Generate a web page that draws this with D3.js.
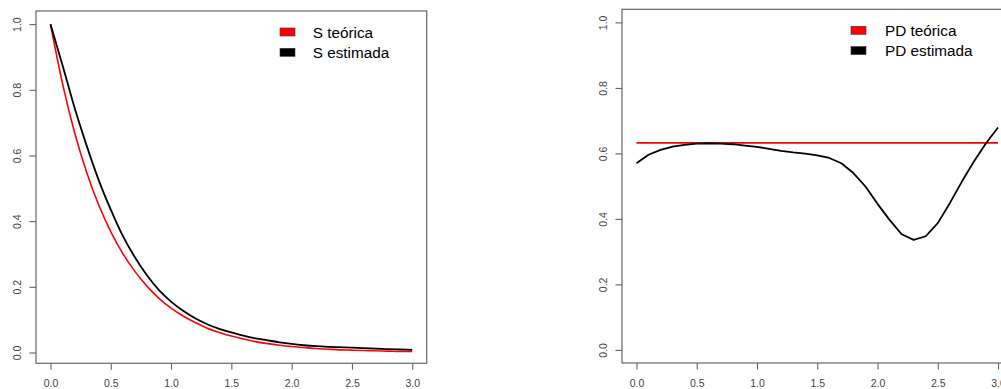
<!DOCTYPE html>
<meta charset="utf-8">
<head>
	<title>S y PD</title>
</head>

<style>

body {
	margin: 0;
	background-color: #fff;
}

svg {
	display: block;
	font-family: "Liberation Sans", Arial, sans-serif;
}

.tick text {
	fill: #444;
	font-size: 10.5px;
}

.legend text {
	font-size: 15.3px;
	fill: #000;
}

</style>

<body>

<svg width="1001" height="389"></svg>

<script src="https://cdnjs.cloudflare.com/ajax/libs/d3/7.8.5/d3.min.js"></script>
<script>

// datos (paso 0.1 en x)
var tiempo = [0.0, 0.1, 0.2, 0.3, 0.4, 0.5, 0.6, 0.7, 0.8, 0.9, 1.0,
	1.1, 1.2, 1.3, 1.4, 1.5, 1.6, 1.7, 1.8, 1.9, 2.0,
	2.1, 2.2, 2.3, 2.4, 2.5, 2.6, 2.7, 2.8, 2.9, 3.0];

var sTeorica = [1.000, 0.819, 0.670, 0.549, 0.449, 0.368, 0.301, 0.247, 0.202, 0.165, 0.135,
	0.111, 0.091, 0.074, 0.061, 0.050, 0.041, 0.033, 0.027, 0.022, 0.018,
	0.015, 0.012, 0.010, 0.008, 0.007, 0.006, 0.005, 0.004, 0.003, 0.003];

var sEstimada = [1.000, 0.875, 0.745, 0.630, 0.525, 0.435, 0.355, 0.290, 0.235, 0.190, 0.155,
	0.127, 0.104, 0.086, 0.072, 0.061, 0.051, 0.043, 0.037, 0.031, 0.026,
	0.022, 0.019, 0.017, 0.016, 0.015, 0.013, 0.012, 0.010, 0.009, 0.008];

var pdTeorica = 0.632;

var pdEstimada = [0.570, 0.596, 0.611, 0.621, 0.626, 0.630, 0.631, 0.630, 0.628, 0.624, 0.620,
	0.614, 0.608, 0.603, 0.599, 0.594, 0.586, 0.570, 0.540, 0.499, 0.446,
	0.397, 0.353, 0.336, 0.347, 0.387, 0.448, 0.514, 0.575, 0.631, 0.679];

var xTicks = [0, 0.5, 1, 1.5, 2, 2.5, 3];
var yTicks = [0, 0.2, 0.4, 0.6, 0.8, 1];

var svg = d3.select('svg');

// caja de cada panel (limites como en R, con 4% extra)
var paneles = [
	{
		left: 36, right: 426.7, top: 11, bottom: 363.3,
		xDom: [-0.12, 3.12], yDom: [-0.033, 1.04],
		legX: 280, legTextX: 312.7, legY: 21,
		leyenda: ['S teórica', 'S estimada']
	},
	{
		left: 622, right: 1012.5, top: 9.3, bottom: 363,
		xDom: [-0.12, 3.12], yDom: [-0.04, 1.04],
		legX: 851, legTextX: 885, legY: 21,
		leyenda: ['PD teórica', 'PD estimada']
	}
];

function dibujarPanel(p, series) {
	var x = d3.scaleLinear().domain(p.xDom).range([p.left, p.right]);
	var y = d3.scaleLinear().domain(p.yDom).range([p.bottom, p.top]);

	var g = svg.append('g');

	// ejes
	var ax = g.append('g')
		.attr('transform', 'translate(0,' + p.bottom + ')')
		.call(d3.axisBottom(x).tickValues(xTicks).tickSize(6.5).tickFormat(d3.format('.1f')));
	ax.selectAll('text').attr('y', 23.5).attr('dy', 0);

	var ay = g.append('g')
		.attr('transform', 'translate(' + p.left + ',0)')
		.call(d3.axisLeft(y).tickValues(yTicks).tickSize(6.5).tickFormat(d3.format('.1f')));
	ay.selectAll('text')
		.attr('transform', 'rotate(-90)')
		.attr('x', 0)
		.attr('y', -15.3)
		.attr('dy', 0)
		.attr('text-anchor', 'middle');

	g.selectAll('.domain').remove();
	g.selectAll('.tick line').attr('stroke', '#555');

	// caja
	g.append('rect')
		.attr('x', p.left)
		.attr('y', p.top)
		.attr('width', p.right - p.left)
		.attr('height', p.bottom - p.top)
		.attr('fill', 'none')
		.attr('stroke', '#666')
		.attr('stroke-width', 1.2);

	series.forEach(function(s) {
		var linea = d3.line()
			.curve(s.curva || d3.curveLinear)
			.x(function(d) { return x(d[0]); })
			.y(function(d) { return y(d[1]); });

		g.append('path')
			.datum(s.datos)
			.attr('d', linea)
			.attr('fill', 'none')
			.attr('stroke', s.color)
			.attr('stroke-width', s.ancho)
			.attr('stroke-linejoin', 'round');
	});

	// leyenda
	var leg = g.append('g').classed('legend', true);
	var colores = ['#ff0000', '#000000'];
	leg.selectAll('rect')
		.data(p.leyenda)
		.enter()
		.append('rect')
		.attr('x', p.legX)
		.attr('y', function(d, i) { return p.top + p.legY - 4 + i * 20.3; })
		.attr('width', 15)
		.attr('height', 8)
		.attr('fill', function(d, i) { return colores[i]; })
		.attr('stroke', '#333')
		.attr('stroke-width', 0.6);
	leg.selectAll('text')
		.data(p.leyenda)
		.enter()
		.append('text')
		.attr('x', p.legTextX)
		.attr('y', function(d, i) { return p.top + p.legY + 5.5 + i * 20.3; })
		.text(function(d) { return d; });
}

var pares = function(xs, ys) {
	return xs.map(function(t, i) { return [t, ys[i]]; });
};

dibujarPanel(paneles[0], [
	{ datos: pares(tiempo, sTeorica), color: '#ff0000', ancho: 1.6, curva: d3.curveMonotoneX },
	{ datos: pares(tiempo, sEstimada), color: '#000000', ancho: 1.8, curva: d3.curveMonotoneX }
]);

dibujarPanel(paneles[1], [
	{ datos: [[tiempo[0], pdTeorica], [tiempo[tiempo.length - 1], pdTeorica]], color: '#ff0000', ancho: 1.6 },
	{ datos: pares(tiempo, pdEstimada), color: '#000000', ancho: 1.8 }
]);

</script>

</body>
</html>
